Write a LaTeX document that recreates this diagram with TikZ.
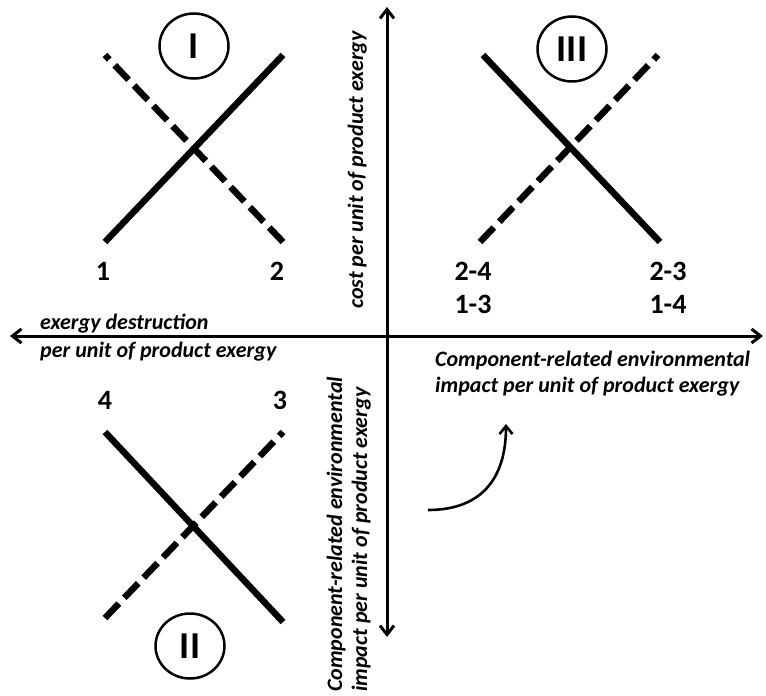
\documentclass[tikz,border=0pt]{standalone}
\usepackage{fontspec}
\setmainfont{Carlito}
\usetikzlibrary{arrows.meta,shapes.geometric}
\begin{document}
\begin{tikzpicture}[x=1pt,y=-1pt,
  axis/.style={line width=3pt, {Straight Barb[length=9pt,width=14pt]}-{Straight Barb[length=9pt,width=14pt]}},
  solidline/.style={line width=6.5pt},
  dashline/.style={line width=6.5pt, dash pattern=on 20pt off 8pt},
  lbl/.style={font=\fontsize{22}{26}\selectfont\bfseries\itshape, inner sep=0pt},
  num/.style={font=\fontsize{28}{30}\selectfont\bfseries, inner sep=0pt},
  roman/.style={draw, ellipse, line width=2.5pt, minimum width=69pt, minimum height=65pt, font=\fontsize{38}{40}\selectfont\bfseries, inner sep=0pt}]
\useasboundingbox (0,0) rectangle (766,696);
% axes
\coordinate (hL) at (10,336);
\coordinate (hR) at (763,336);
\coordinate (vT) at (387,7);
\coordinate (vB) at (387,637);
\draw[axis] (hL) -- (hR);
\draw[axis] (vT) -- (vB);
% quadrant I
\coordinate (a1) at (283,242); \coordinate (a2) at (105,55);
\coordinate (b1) at (105,242); \coordinate (b2) at (283,55);
\draw[dashline] (a1) -- (a2);
\draw[solidline] (b1) -- (b2);
% quadrant III
\coordinate (c1) at (480,242); \coordinate (c2) at (658,55);
\coordinate (d1) at (483,55); \coordinate (d2) at (660,242);
\draw[dashline] (c1) -- (c2);
\draw[solidline] (d1) -- (d2);
% quadrant II
\coordinate (e1) at (105,618); \coordinate (e2) at (283,432);
\coordinate (f1) at (105,432); \coordinate (f2) at (283,622);
\draw[dashline] (e1) -- (e2);
\draw[solidline] (f1) -- (f2);
% roman numerals
\node[roman] (rI) at (194,46) {I};
\node[roman] (rIII) at (572,49) {III};
\node[roman] (rII) at (190,646) {II};
% numbers
\node[num] (n1) at (103,271) {1};
\node[num] (n2) at (277,271) {2};
\node[num] (n24) at (473,271) {2-4};
\node[num] (n13) at (473,304) {1-3};
\node[num] (n23) at (668,271) {2-3};
\node[num] (n14) at (668,304) {1-4};
\node[num] (n4) at (105,400) {4};
\node[num] (n3) at (280,400) {3};
% axis labels
\node[lbl, anchor=base west] (xl1) at (40,329) {exergy destruction};
\node[lbl, anchor=base west] (xl2) at (40,357) {per unit of product exergy};
\node[lbl, anchor=base west] (xr1) at (435,366) {Component-related environmental};
\node[lbl, anchor=base west] (xr2) at (435,392) {impact per unit of product exergy};
\node[lbl, rotate=90, anchor=base] (yt) at (363,170) {cost per unit of product exergy};
\node[lbl, rotate=90, anchor=base west] (yb1) at (342,692) {Component-related environmental};
\node[lbl, rotate=90, anchor=base west] (yb2) at (367,692) {impact per unit of product exergy};
% curved arrow
\coordinate (cs) at (428,510);
\coordinate (ce) at (506,424);
\draw[line width=2.6pt, -{Straight Barb[length=8pt,width=13pt]}] (cs) .. controls (480,510) and (506,480) .. (ce);
\end{tikzpicture}
\end{document}
